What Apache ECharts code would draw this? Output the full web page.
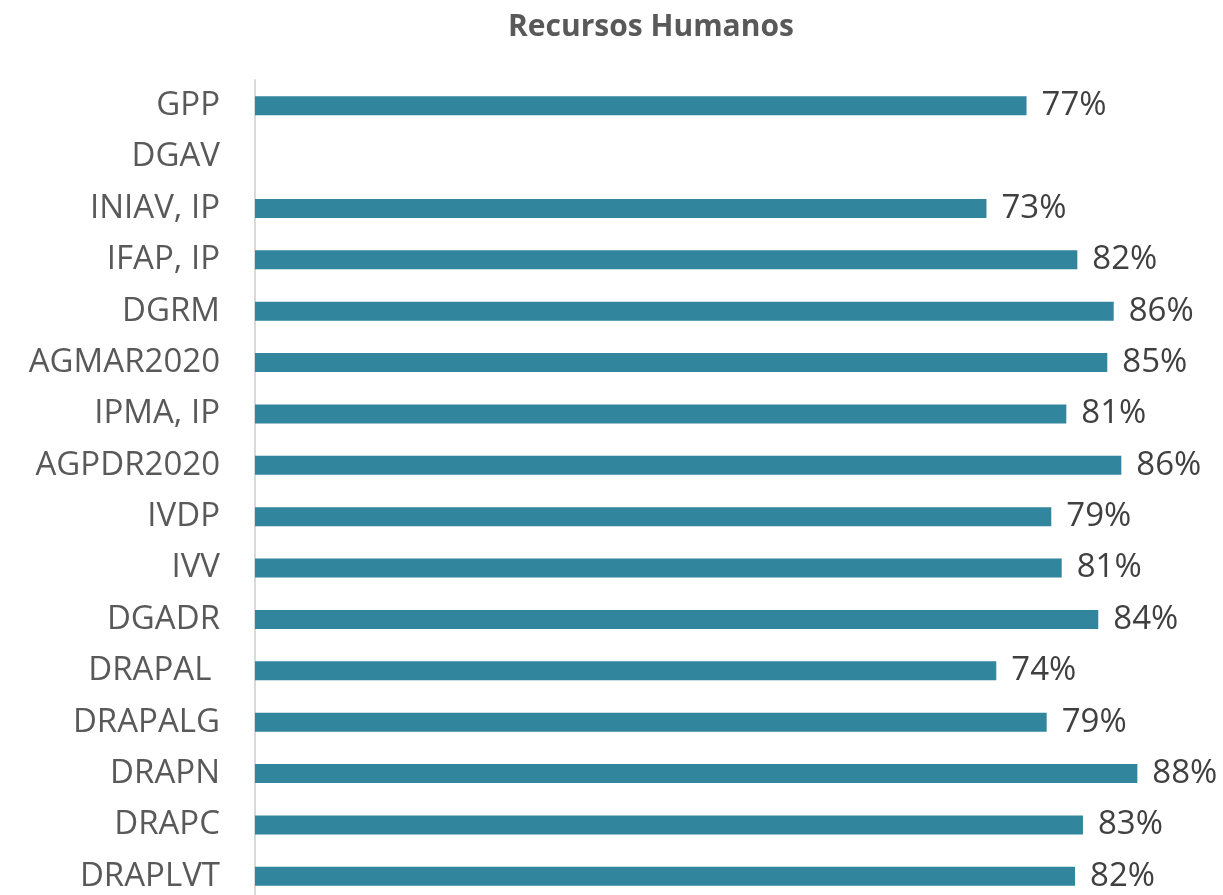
<!DOCTYPE html>
<html>
<head>
<meta charset="utf-8">
<script src="https://cdn.jsdelivr.net/npm/echarts@6/dist/echarts.min.js"></script>
<style>
html,body{margin:0;padding:0;background:#fff;}
#chart{width:1223px;height:895px;}
</style>
</head>
<body>
<div id="chart"></div>
<script>
const titleText = 'Recursos Humanos';
const categories = ['GPP','DGAV','INIAV, IP','IFAP, IP','DGRM','AGMAR2020','IPMA, IP','AGPDR2020','IVDP','IVV','DGADR','DRAPAL ','DRAPALG','DRAPN','DRAPC','DRAPLVT'];
const values = [0.770, null, 0.730, 0.8207, 0.857, 0.8506, 0.8097, 0.8646, 0.7947, 0.8051, 0.8416, 0.7398, 0.7901, 0.8806, 0.8263, 0.8184];

const chart = echarts.init(document.getElementById('chart'));
chart.setOption({
  animation: false,
  backgroundColor: '#ffffff',
  title: {
    text: titleText,
    left: 503,
    top: 7,
    textStyle: { fontFamily: 'Open Sans', fontWeight: 'bold', fontSize: 30, color: '#595959' }
  },
  grid: { left: 255, top: 80, width: 1002, height: 822, containLabel: false, outerBoundsMode: 'none' },
  xAxis: { type: 'value', min: 0, max: 1, show: false },
  yAxis: {
    type: 'category',
    data: categories,
    inverse: true,
    axisLine: { show: true, lineStyle: { color: '#d9d9d9', width: 2 } },
    axisTick: { show: false },
    axisLabel: { fontFamily: 'Open Sans', fontSize: 33, color: '#595959', margin: 35, interval: 0 },
    splitLine: { show: false }
  },
  series: [{
    type: 'bar',
    data: values,
    barWidth: 19,
    itemStyle: { color: '#31859C' },
    label: {
      show: true,
      position: 'right',
      distance: 15,
      fontFamily: 'Open Sans',
      fontSize: 33,
      color: '#404040',
      padding: [4, 0, 0, 0],
      formatter: p => p.value == null ? '' : Math.round(p.value * 100) + '%'
    }
  }]
});
</script>
</body>
</html>
